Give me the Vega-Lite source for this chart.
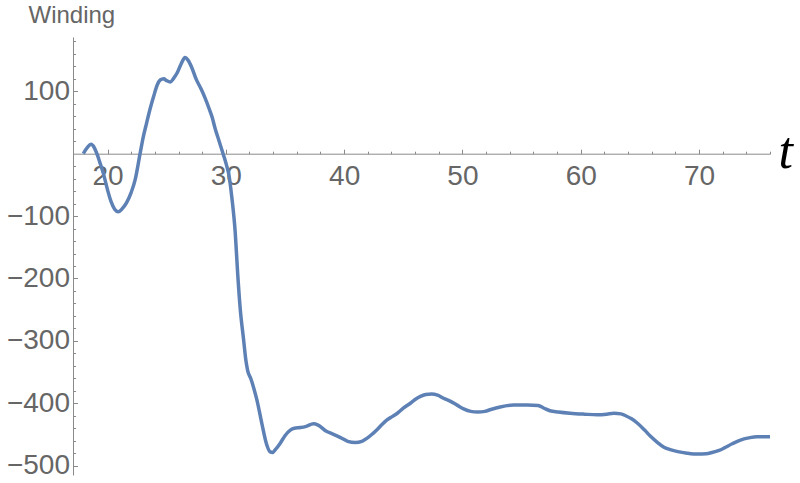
{
  "$schema": "https://vega.github.io/schema/vega-lite/v6.json",
  "width": 697,
  "height": 438,
  "autosize": {"type": "none"},
  "padding": {"left": 73, "top": 37, "right": 30, "bottom": 8},
  "background": "white",
  "config": {
    "view": {"stroke": null},
    "axis": {"grid": false, "domainColor": "#8a8a8a", "tickColor": "#8a8a8a", "labelColor": "#666666", "labelFont": "Liberation Sans", "labelFontSize": 28, "domainWidth": 1, "tickWidth": 1}
  },
  "data": {"values": [
    {"t": 17.95, "v": 0}, {"t": 18.3, "v": 10}, {"t": 18.6, "v": 15}, {"t": 18.9, "v": 9}, {"t": 19.1, "v": 0},
    {"t": 19.4, "v": -17}, {"t": 19.65, "v": -32}, {"t": 20.0, "v": -58}, {"t": 20.3, "v": -77}, {"t": 20.6, "v": -89},
    {"t": 20.9, "v": -93}, {"t": 21.2, "v": -89}, {"t": 21.6, "v": -79}, {"t": 22.0, "v": -62}, {"t": 22.33, "v": -42},
    {"t": 22.75, "v": 0}, {"t": 23.0, "v": 25}, {"t": 23.3, "v": 49}, {"t": 23.6, "v": 72}, {"t": 23.9, "v": 92},
    {"t": 24.2, "v": 110}, {"t": 24.45, "v": 118}, {"t": 24.75, "v": 120}, {"t": 25.0, "v": 117}, {"t": 25.3, "v": 115},
    {"t": 25.6, "v": 121}, {"t": 25.9, "v": 130}, {"t": 26.2, "v": 143}, {"t": 26.55, "v": 154}, {"t": 26.8, "v": 150},
    {"t": 27.1, "v": 139}, {"t": 27.5, "v": 119}, {"t": 27.9, "v": 104}, {"t": 28.25, "v": 89}, {"t": 28.55, "v": 74},
    {"t": 28.85, "v": 58}, {"t": 29.1, "v": 40}, {"t": 29.4, "v": 22}, {"t": 29.8, "v": -2}, {"t": 30.05, "v": -18},
    {"t": 30.25, "v": -33}, {"t": 30.5, "v": -69}, {"t": 30.8, "v": -128}, {"t": 31.0, "v": -192}, {"t": 31.2, "v": -245},
    {"t": 31.5, "v": -298}, {"t": 31.7, "v": -332}, {"t": 31.85, "v": -348}, {"t": 32.1, "v": -360}, {"t": 32.35, "v": -375},
    {"t": 32.63, "v": -395}, {"t": 33.05, "v": -433}, {"t": 33.45, "v": -466}, {"t": 33.75, "v": -478}, {"t": 33.95, "v": -479},
    {"t": 34.2, "v": -474}, {"t": 34.6, "v": -464}, {"t": 35.0, "v": -452}, {"t": 35.45, "v": -443}, {"t": 35.8, "v": -440},
    {"t": 36.3, "v": -439}, {"t": 36.8, "v": -437}, {"t": 37.4, "v": -433}, {"t": 37.8, "v": -435}, {"t": 38.5, "v": -445},
    {"t": 39.0, "v": -449}, {"t": 39.7, "v": -455}, {"t": 40.3, "v": -461}, {"t": 40.95, "v": -463}, {"t": 41.5, "v": -461},
    {"t": 41.95, "v": -456}, {"t": 42.4, "v": -449}, {"t": 42.8, "v": -442}, {"t": 43.2, "v": -434}, {"t": 43.6, "v": -427},
    {"t": 44.1, "v": -421}, {"t": 44.5, "v": -416}, {"t": 45.0, "v": -408}, {"t": 45.6, "v": -400}, {"t": 46.0, "v": -394},
    {"t": 46.45, "v": -389}, {"t": 46.9, "v": -386}, {"t": 47.4, "v": -385}, {"t": 47.9, "v": -387}, {"t": 48.4, "v": -392},
    {"t": 49.0, "v": -397}, {"t": 49.55, "v": -403}, {"t": 50.1, "v": -409}, {"t": 50.7, "v": -413}, {"t": 51.3, "v": -414},
    {"t": 51.9, "v": -413}, {"t": 52.4, "v": -410}, {"t": 53.2, "v": -406}, {"t": 54.3, "v": -403}, {"t": 55.5, "v": -402.7},
    {"t": 56.4, "v": -403.5}, {"t": 56.9, "v": -408}, {"t": 57.4, "v": -412}, {"t": 58.1, "v": -414}, {"t": 59.1, "v": -416},
    {"t": 60.3, "v": -417.5}, {"t": 61.4, "v": -418.5}, {"t": 62.2, "v": -417.5}, {"t": 62.8, "v": -416}, {"t": 63.4, "v": -417},
    {"t": 63.8, "v": -420}, {"t": 64.3, "v": -425}, {"t": 64.8, "v": -432}, {"t": 65.4, "v": -443}, {"t": 65.9, "v": -453},
    {"t": 66.5, "v": -463}, {"t": 67.0, "v": -470}, {"t": 67.5, "v": -474}, {"t": 68.2, "v": -477.5}, {"t": 69.0, "v": -480},
    {"t": 69.9, "v": -481.5}, {"t": 70.6, "v": -481}, {"t": 71.1, "v": -479}, {"t": 71.7, "v": -475.5}, {"t": 72.1, "v": -472},
    {"t": 72.8, "v": -465}, {"t": 73.5, "v": -459}, {"t": 74.2, "v": -455.5}, {"t": 74.9, "v": -453.5}, {"t": 75.5, "v": -453.5},
    {"t": 76.0, "v": -453.5}
  ]},
  "layer": [
    {
      "mark": {"type": "line", "strokeOpacity": 0},
      "encoding": {
        "x": {"field": "t", "type": "quantitative", "scale": {"domain": [17.08, 76], "nice": false, "zero": false},
          "axis": {"orient": "bottom", "offset": -321.3, "values": [18,22,24,26,28,32,34,36,38,42,44,46,48,52,54,56,58,62,64,66,68,72,74,76], "tickSize": -2.5, "labels": false, "domain": false, "title": null}},
        "y": {"field": "v", "type": "quantitative", "scale": {"domain": [-515, 187], "nice": false, "zero": false},
          "axis": {"orient": "left", "values": [-480,-460,-440,-420,-380,-360,-340,-320,-280,-260,-240,-220,-180,-160,-140,-120,-80,-60,-40,-20,20,40,60,80,120,140,160,180], "tickSize": -2.5, "labels": false, "domain": false, "title": null}}
      }
    },
    {
      "mark": {"type": "line", "color": "#5E81B5", "strokeWidth": 3.5, "interpolate": "monotone", "clip": true},
      "encoding": {
        "x": {"field": "t", "type": "quantitative",
          "axis": {"orient": "bottom", "offset": -321.3, "values": [20,30,40,50,60,70], "tickSize": -4.5, "labelPadding": 13,
            "title": "t", "titleFont": "Liberation Serif", "titleFontStyle": "italic", "titleFontWeight": "normal", "titleFontSize": 52, "titleColor": "#000000",
            "titleAngle": 0, "titleAlign": "left", "titleBaseline": "alphabetic", "titleX": 705, "titleY": 14}},
        "y": {"field": "v", "type": "quantitative",
          "axis": {"orient": "left", "values": [100,-100,-200,-300,-400,-500], "tickSize": -4.5, "labelPadding": 8,
            "title": "Winding", "titleFont": "Liberation Sans", "titleFontWeight": "normal", "titleFontSize": 24, "titleColor": "#666666",
            "titleAngle": 0, "titleAlign": "left", "titleBaseline": "alphabetic", "titleX": -45, "titleY": -15}}
      }
    }
  ],
  "resolve": {"axis": {"x": "independent", "y": "independent"}}
}
